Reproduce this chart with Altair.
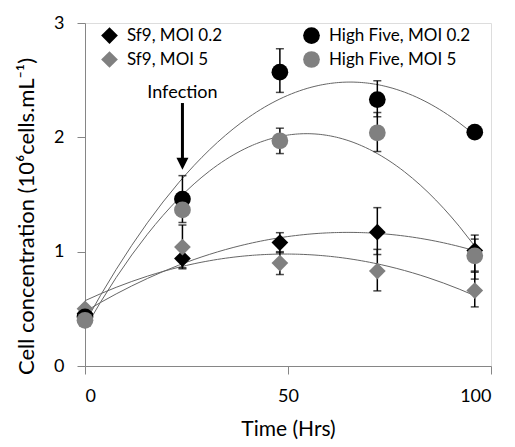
import altair as alt
import pandas as pd

# ---- data ----
times = [0, 24, 48, 72, 96]
series_names = ["Sf9, MOI 0.2", "Sf9, MOI 5", "High Five, MOI 0.2", "High Five, MOI 5"]

sf9_02 = [0.46, 0.94, 1.08, 1.17, 1.01]
sf9_02_lo = [0.43, 0.86, 0.99, 0.975, 0.83]
sf9_02_hi = [0.49, 1.02, 1.166, 1.385, 1.145]

sf9_5 = [0.50, 1.04, 0.90, 0.83, 0.66]
sf9_5_lo = [0.47, 0.85, 0.80, 0.657, 0.517]
sf9_5_hi = [0.53, 1.233, 1.00, 1.02, 0.82]

hf_02 = [0.43, 1.46, 2.57, 2.33, 2.045]
hf_02_lo = [0.41, 1.255, 2.393, 2.18, 2.03]
hf_02_hi = [0.45, 1.665, 2.775, 2.495, 2.06]

hf_5 = [0.40, 1.365, 1.97, 2.04, 0.964]
hf_5_lo = [0.38, 1.31, 1.858, 1.876, 0.76]
hf_5_hi = [0.42, 1.42, 2.08, 2.217, 1.11]

# legend (filled column by column in a 2-column legend)
legend_order = series_names
legend_colors = ["#000000", "#808080", "#000000", "#808080"]
legend_shapes = ["diamond", "diamond", "circle", "circle"]
legend_sizes = [280, 280, 210, 210]

# annotation
annot_t = [24]
annot_label = ["Infection"]
annot_text_v = [2.34]
arrow_top = [2.30]
arrow_bottom = [1.80]
arrow_head = [1.77]

FONT = "Lato"
AXIS_GRAY = "#868686"

values = [sf9_02, sf9_5, hf_02, hf_5]
los = [sf9_02_lo, sf9_5_lo, hf_02_lo, hf_5_lo]
his = [sf9_02_hi, sf9_5_hi, hf_02_hi, hf_5_hi]

rows = []
for name, vs, ls, hs in zip(series_names, values, los, his):
    for t, v, lo, hi in zip(times, vs, ls, hs):
        rows.append({"series": name, "t": t, "v": v, "lo": lo, "hi": hi})
df = pd.DataFrame(rows)

annot = pd.DataFrame({"t": annot_t, "label": annot_label, "tv": annot_text_v,
                      "a1": arrow_top, "a2": arrow_bottom, "ah": arrow_head})

x_scale = alt.Scale(domain=[0, 100], nice=False, zero=False)
y_scale = alt.Scale(domain=[0, 3], nice=False)

x_axis = alt.Axis(values=[0, 50, 100], format="d", title="Time (Hrs)", grid=False,
                  domainColor=AXIS_GRAY, tickColor=AXIS_GRAY, tickSize=8,
                  labelFont=FONT, labelFontSize=18, labelColor="black", labelPadding=13,
                  titleFont=FONT, titleFontSize=21, titleFontWeight="normal", titleColor="black",
                  titleY=69, titleBaseline="alphabetic")
y_axis = alt.Axis(values=[0, 1, 2, 3], format="d", title="Cell concentration (10⁶cells.mL⁻¹)", grid=False,
                  domainColor=AXIS_GRAY, tickColor=AXIS_GRAY, tickSize=8,
                  labelFont=FONT, labelFontSize=18, labelColor="black", labelPadding=13,
                  titleFont=FONT, titleFontSize=22, titleFontWeight="normal", titleColor="black",
                  titleX=-51.5, titleY=193, titleBaseline="alphabetic")

base = alt.Chart(df)

trend = base.transform_regression(
    "t", "v", groupby=["series"], method="poly", order=2, extent=[0, 96]
).mark_line(color="#666666", strokeWidth=1).encode(
    x=alt.X("t:Q", scale=x_scale, axis=x_axis),
    y=alt.Y("v:Q", scale=y_scale, axis=y_axis),
    detail="series:N",
)

err_rule = base.mark_rule(color="black", strokeWidth=1.5).encode(
    x=alt.X("t:Q", scale=x_scale), y=alt.Y("lo:Q", scale=y_scale), y2="hi:Q"
)
cap_lo = base.mark_tick(color="black", orient="horizontal", size=8, thickness=1.5).encode(
    x=alt.X("t:Q", scale=x_scale), y=alt.Y("lo:Q", scale=y_scale)
)
cap_hi = base.mark_tick(color="black", orient="horizontal", size=8, thickness=1.5).encode(
    x=alt.X("t:Q", scale=x_scale), y=alt.Y("hi:Q", scale=y_scale)
)

points = base.mark_point(filled=True, opacity=1, strokeWidth=0).encode(
    x=alt.X("t:Q", scale=x_scale),
    y=alt.Y("v:Q", scale=y_scale),
    color=alt.Color("series:N", scale=alt.Scale(domain=legend_order, range=legend_colors),
                    legend=alt.Legend(title=None, orient="none", legendX=16, legendY=4,
                                      columns=2, columnPadding=80, rowPadding=6,
                                      symbolSize=260, labelFont=FONT, labelFontSize=17,
                                      labelColor="black", labelOffset=9, padding=0,
                                      symbolStrokeWidth=0, symbolOpacity=1)),
    shape=alt.Shape("series:N", scale=alt.Scale(domain=legend_order, range=legend_shapes)),
    size=alt.Size("series:N", scale=alt.Scale(domain=legend_order, range=legend_sizes), legend=None),
)

abase = alt.Chart(annot)
infect_text = abase.mark_text(font=FONT, fontSize=18, color="black", baseline="alphabetic",
                              align="center").encode(
    x=alt.X("t:Q", scale=x_scale), y=alt.Y("tv:Q", scale=y_scale), text="label:N")
arrow_shaft = abase.mark_rule(color="black", strokeWidth=3).encode(
    x=alt.X("t:Q", scale=x_scale), y=alt.Y("a1:Q", scale=y_scale), y2="a2:Q")
arrow_tip = abase.mark_point(shape="M-1,-1L1,-1L0,1Z", filled=True, opacity=1, color="black",
                             size=144, strokeWidth=0).encode(
    x=alt.X("t:Q", scale=x_scale), y=alt.Y("ah:Q", scale=y_scale))

chart = alt.layer(trend, err_rule, cap_lo, cap_hi, points, infect_text, arrow_shaft, arrow_tip).properties(
    width=406, height=343,
    autosize=alt.AutoSizeParams(type="none"),
    padding={"left": 85, "top": 23, "right": 24, "bottom": 81},
).configure_view(stroke=AXIS_GRAY, strokeWidth=1).configure(background="white")

chart.save("out.html", embed_options={"renderer": "svg", "actions": False})
